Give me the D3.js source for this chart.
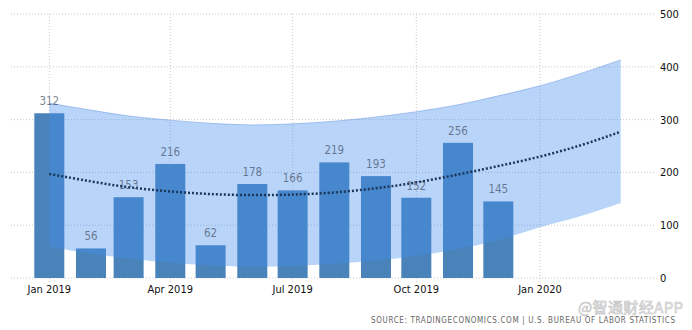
<!DOCTYPE html>
<meta charset="utf-8">
<script src="https://d3js.org/d3.v7.min.js"></script>
<style>
body { margin: 0; background: #fff; }
text { font-family: "DejaVu Sans Condensed", "DejaVu Sans", sans-serif; }
</style>
<div id="chart"></div>
<script>

// monthly values (thousands), Jan 2019 .. Dec 2019
var months = ["2019-01","2019-02","2019-03","2019-04","2019-05","2019-06",
              "2019-07","2019-08","2019-09","2019-10","2019-11","2019-12"];
var values = [312, 56, 153, 216, 62, 178, 166, 219, 193, 152, 256, 145];

// trend and forecast band, Jan 2019 .. Mar 2020
var bandMonths = ["2019-01","2019-02","2019-03","2019-04","2019-05","2019-06","2019-07","2019-08",
                  "2019-09","2019-10","2019-11","2019-12","2020-01","2020-02","2020-03"];
var trend = [197, 183, 172, 164, 159, 157, 158, 162, 170, 181, 196, 212, 230, 252, 277];
var upper = [331, 318, 307, 299, 293, 290, 292, 297, 305, 315, 328, 345, 364, 388, 413];
var lower = [59, 46, 37, 29, 24, 21, 23, 27, 33, 42, 55, 72, 96, 118, 142];

var yTicks = [0, 100, 200, 300, 400, 500];
var xTicks = ["2019-01","2019-04","2019-07","2019-10","2020-01"];

var width = 692, height = 330;
var parse = d3.timeParse("%Y-%m");
var fmt = d3.timeFormat("%b %Y");

var svg = d3.select("#chart").append("svg")
    .attr("width", width)
    .attr("height", height);

var x = d3.scaleTime()
    .domain([parse("2019-01"), parse("2020-01")])
    .range([49.3, 540]);

var y = d3.scaleLinear()
    .domain([0, 500])
    .range([278, 14]);

var left = 11, right = 656;

// horizontal grid + right axis labels
svg.append("g").selectAll("line")
  .data(yTicks)
  .enter().append("line")
    .attr("x1", left).attr("x2", right)
    .attr("y1", function(d) { return y(d); })
    .attr("y2", function(d) { return y(d); })
    .attr("stroke", "#c8c8c8")
    .attr("stroke-dasharray", "1,2");

svg.append("g").selectAll("text")
  .data(yTicks)
  .enter().append("text")
    .attr("x", 660)
    .attr("y", function(d) { return y(d) + 4; })
    .attr("font-size", 11)
    .attr("fill", "#111")
    .text(function(d) { return d; });

// vertical grid + bottom labels
svg.append("g").selectAll("line")
  .data(xTicks)
  .enter().append("line")
    .attr("x1", function(d) { return x(parse(d)); })
    .attr("x2", function(d) { return x(parse(d)); })
    .attr("y1", y(500)).attr("y2", y(0) + 5)
    .attr("stroke", "#c8c8c8")
    .attr("stroke-dasharray", "1,2");

svg.append("g").selectAll("text")
  .data(xTicks)
  .enter().append("text")
    .attr("x", function(d) { return x(parse(d)); })
    .attr("y", 293)
    .attr("text-anchor", "middle")
    .attr("font-size", 11)
    .attr("fill", "#111")
    .text(function(d) { return fmt(parse(d)); });

// bars
var barW = 30;
svg.append("g").selectAll("rect")
  .data(values)
  .enter().append("rect")
    .attr("x", function(d, i) { return x(parse(months[i])) - barW / 2; })
    .attr("y", function(d) { return y(d); })
    .attr("width", barW)
    .attr("height", function(d) { return y(0) - y(d); })
    .attr("fill", "#4a83ba");

// forecast band drawn over the bars
var bandData = bandMonths.map(function(m, i) {
  return {date: parse(m), hi: upper[i], lo: lower[i], t: trend[i]};
});

var area = d3.area()
    .x(function(d) { return x(d.date); })
    .y0(function(d) { return y(d.lo); })
    .y1(function(d) { return y(d.hi); })
    .curve(d3.curveNatural);

svg.append("path")
    .datum(bandData)
    .attr("d", area)
    .attr("fill", "rgb(68,142,237)")
    .attr("fill-opacity", 0.38);

svg.append("path")
    .datum(bandData)
    .attr("d", d3.line()
      .x(function(d) { return x(d.date); })
      .y(function(d) { return y(d.hi); })
      .curve(d3.curveNatural))
    .attr("fill", "none")
    .attr("stroke", "rgb(90,140,220)")
    .attr("stroke-opacity", 0.45);

// dotted trend
svg.append("path")
    .datum(bandData)
    .attr("d", d3.line()
      .x(function(d) { return x(d.date); })
      .y(function(d) { return y(d.t); })
      .curve(d3.curveNatural))
    .attr("fill", "none")
    .attr("stroke", "#1c3658")
    .attr("stroke-width", 2.5)
    .attr("stroke-dasharray", "2,2");

// value labels
svg.append("g").selectAll("text")
  .data(values)
  .enter().append("text")
    .attr("x", function(d, i) { return x(parse(months[i])); })
    .attr("y", function(d) { return y(d) - 8; })
    .attr("text-anchor", "middle")
    .attr("font-size", 11.5)
    .attr("fill", "rgba(70,82,104,0.72)")
    .text(function(d) { return d; });

// source
svg.append("text")
    .attr("x", 371)
    .attr("y", 323)
    .attr("font-size", 8)
    .attr("fill", "#666")
    .attr("textLength", 304)
    .attr("lengthAdjust", "spacing")
    .text("SOURCE: TRADINGECONOMICS.COM | U.S. BUREAU OF LABOR STATISTICS");

// watermark
svg.append("text")
    .attr("x", 578)
    .attr("y", 313)
    .attr("font-size", 15)
    .attr("fill", "#ededed")
    .attr("stroke", "#c4c4c4")
    .attr("stroke-width", 0.6)
    .attr("textLength", 105)
    .attr("style", "font-family: 'Noto Sans CJK SC', sans-serif")
    .text("@智通财经APP");

</script>
